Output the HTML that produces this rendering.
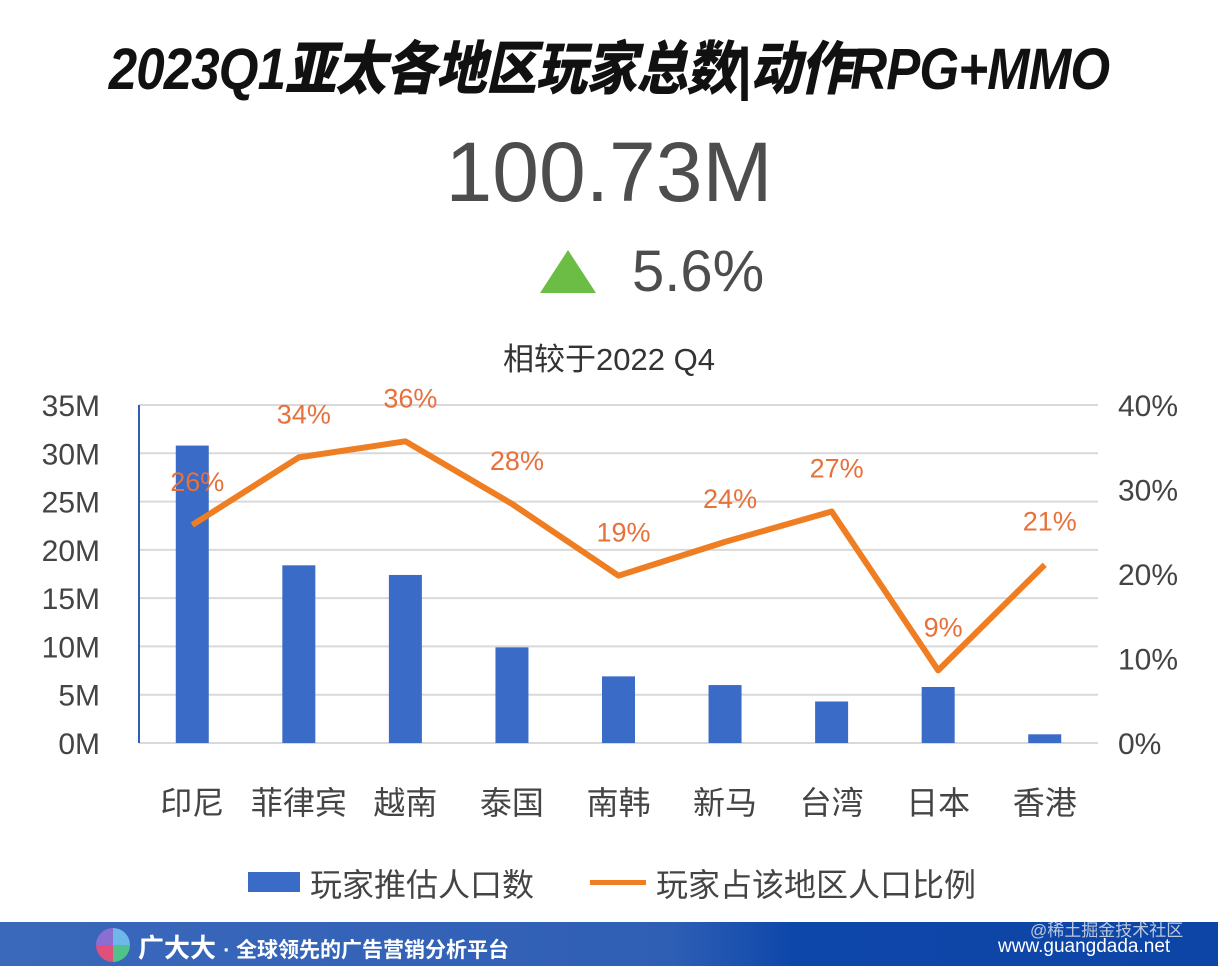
<!DOCTYPE html>
<html><head><meta charset="utf-8">
<style>
body{margin:0;width:1218px;height:966px;background:#fff;overflow:hidden;font-family:"Liberation Sans","Noto Sans CJK SC",sans-serif;position:relative}
.abs{position:absolute}
</style></head><body>
<div class="abs" style="left:0;width:1218px;top:22px;text-align:center;font-size:58px;font-weight:900;font-style:italic;color:#111;letter-spacing:-1px;transform:scaleX(0.88)">2023Q1亚太各地区玩家总数|动作RPG+MMO</div>
<div class="abs" style="left:0;width:1218px;top:124px;text-align:center;font-size:84px;color:#4d4d4d">100.73M</div>
<div class="abs" style="left:540px;top:250px;width:0;height:0;border-left:28px solid transparent;border-right:28px solid transparent;border-bottom:43px solid #6cbd45"></div>
<div class="abs" style="left:632px;top:238px;font-size:58px;color:#4d4d4d">5.6%</div>
<div class="abs" style="left:0;width:1218px;top:334px;text-align:center;font-size:31px;color:#333">相较于2022 Q4</div>
<svg class="abs" style="left:0;top:0" width="1218" height="966" id="chart"></svg>
<div class="abs" style="left:248px;top:872px;width:52px;height:20px;background:#3a6bc6"></div>
<div class="abs" style="left:310px;top:860px;font-size:32px;color:#444">玩家推估人口数</div>
<div class="abs" style="left:590px;top:880px;width:56px;height:5px;background:#ef7d22"></div>
<div class="abs" style="left:656px;top:860px;font-size:32px;color:#444">玩家占该地区人口比例</div>
<div class="abs" style="left:0;top:922px;width:1218px;height:44px;background:linear-gradient(90deg,#3a68bb 0%,#2f5fb5 55%,#0e47aa 65%,#0d45a6 100%)">
 <div class="abs" style="left:96px;top:6px;width:34px;height:34px;border-radius:50%;background:conic-gradient(#6fb7e8 0 25%,#4ec28a 25% 50%,#e0507a 50% 75%,#8a6fd0 75%)"></div>
 <div class="abs" style="left:138px;top:6px;font-size:26px;font-weight:bold;color:#fff">广大大 <span style="font-size:21px">· 全球领先的广告营销分析平台</span></div>
 <div class="abs" style="left:998px;top:14px;font-size:19px;color:#fff">www.guangdada.net</div>
</div>
<div class="abs" style="left:1030px;top:916px;font-size:17px;color:#bcc8dc">@稀土掘金技术社区</div>
<script>
const categories=["印尼","菲律宾","越南","泰国","南韩","新马","台湾","日本","香港"];
const players=[30.8,18.4,17.4,9.9,6.9,6.0,4.3,5.8,0.9];
const ratio=[25.8,33.8,35.7,28.3,19.8,23.8,27.4,8.6,21.1];
const ratioLabels=["26%","34%","36%","28%","19%","24%","27%","9%","21%"];
const leftTicks=[0,5,10,15,20,25,30,35];
const rightTicks=[0,10,20,30,40];
const svg=document.getElementById('chart');
const NS='http://www.w3.org/2000/svg';
const X0=139,X1=1098,Y0=743,Y1=405;
const bw=(X1-X0)/categories.length;
const yL=v=>Y0-(v/35)*(Y0-Y1);
const yR=v=>Y0-(v/40)*(Y0-Y1);
const xC=i=>X0+bw*(i+0.5);
function mk(t,a,txt){const e=document.createElementNS(NS,t);for(const k in a)e.setAttribute(k,a[k]);if(txt!==undefined)e.textContent=txt;svg.appendChild(e);return e;}
leftTicks.forEach(v=>{
 const g=mk('line',{x1:X0,x2:X1,y1:yL(v),y2:yL(v),stroke:'#d9d9d9','stroke-width':2});
 
 
 const t=mk('text',{x:100,y:yL(v)+11,'text-anchor':'end','font-size':30,fill:'#444','font-family':'Liberation Sans, sans-serif','textLength':'','lengthAdjust':'spacingAndGlyphs'},v+'M');
 t.removeAttribute('textLength');
 
 
});
rightTicks.forEach(v=>{
 const t=mk('text',{x:1118,y:yR(v)+11,'font-size':30,fill:'#444','font-family':'Liberation Sans, sans-serif'},v+'%');
 
 
});
const ax=mk('line',{x1:X0,x2:X0,y1:Y1,y2:Y0,stroke:'#2f5fb5','stroke-width':2});


categories.forEach((c,i)=>{
 const r=mk('rect',{x:xC(i)-16.5,y:yL(players[i]),width:33,height:Y0-yL(players[i]),fill:'#3a6bc6'});
 
 
 const t=mk('text',{x:xC(i),y:814,'text-anchor':'middle','font-size':32,fill:'#444','font-family':'Noto Sans CJK SC, sans-serif'},c);
 
 
});
const pl=mk('polyline',{points:ratio.map((v,i)=>xC(i)+','+yR(v)).join(' '),fill:'none',stroke:'#ef7d22','stroke-width':6,'stroke-linejoin':'round'});


ratio.forEach((v,i)=>{
 const t=mk('text',{x:xC(i)+5,y:yR(v)-34,'text-anchor':'middle','font-size':27,fill:'#e8703a','font-family':'Liberation Sans, sans-serif'},ratioLabels[i]);
 
 
});
</script>
</body></html>
